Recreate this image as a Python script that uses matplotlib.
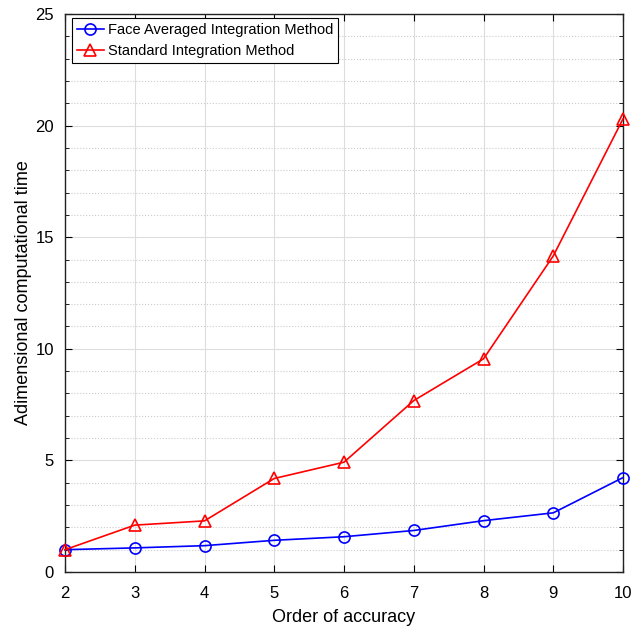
import matplotlib
matplotlib.use("Agg")
import matplotlib.pyplot as plt
from matplotlib.ticker import MultipleLocator

plt.rcParams['font.family'] = ['Liberation Sans', 'DejaVu Sans']

# data
order = [2, 3, 4, 5, 6, 7, 8, 9, 10]
face_avg = [1.0, 1.08, 1.18, 1.42, 1.58, 1.86, 2.3, 2.65, 4.23]
standard = [1.0, 2.1, 2.29, 4.19, 4.92, 7.68, 9.55, 14.16, 20.3]

fig = plt.figure(figsize=(6.42, 6.28), dpi=100)
ax = fig.add_axes([65 / 642, 1 - 572 / 628, 558 / 642, 558 / 628])

ax.plot(order, face_avg, color='blue', marker='o', markersize=8,
        markerfacecolor='none', markeredgewidth=1.2, linewidth=1.2,
        clip_on=False, zorder=3, label='Face Averaged Integration Method')
ax.plot(order, standard, color='red', marker='^', markersize=8,
        markerfacecolor='none', markeredgewidth=1.2, linewidth=1.2,
        clip_on=False, zorder=3, label='Standard Integration Method')

ax.set_xlim(2, 10)
ax.set_ylim(0, 25)
ax.xaxis.set_major_locator(MultipleLocator(1))
ax.yaxis.set_major_locator(MultipleLocator(5))
ax.yaxis.set_minor_locator(MultipleLocator(1))

ax.grid(True, which='major', color='#dddddd', linewidth=0.8)
ax.grid(True, which='minor', axis='y', color='#cccccc', linestyle=':', linewidth=0.8)
ax.set_axisbelow(True)

ax.tick_params(which='both', direction='in', top=True, right=True, labelsize=12)
ax.tick_params(which='major', length=5)
ax.tick_params(which='minor', length=3)
ax.tick_params(axis='x', pad=10)
ax.tick_params(axis='y', pad=8)
for s in ax.spines.values():
    s.set_linewidth(1.0)
    s.set_color('#222222')

ax.set_xlabel('Order of accuracy', fontsize=13, labelpad=6)
ax.set_ylabel('Adimensional computational time', fontsize=13, labelpad=2)

leg = ax.legend(loc='upper left', fontsize=10.5, fancybox=False, framealpha=1,
                edgecolor='black', borderaxespad=0.3, handlelength=1.8,
                borderpad=0.35, labelspacing=0.45, handletextpad=0.3,
                bbox_to_anchor=(0.005, 1))
leg.get_frame().set_linewidth(0.8)

fig.savefig('out.png', dpi=100)
